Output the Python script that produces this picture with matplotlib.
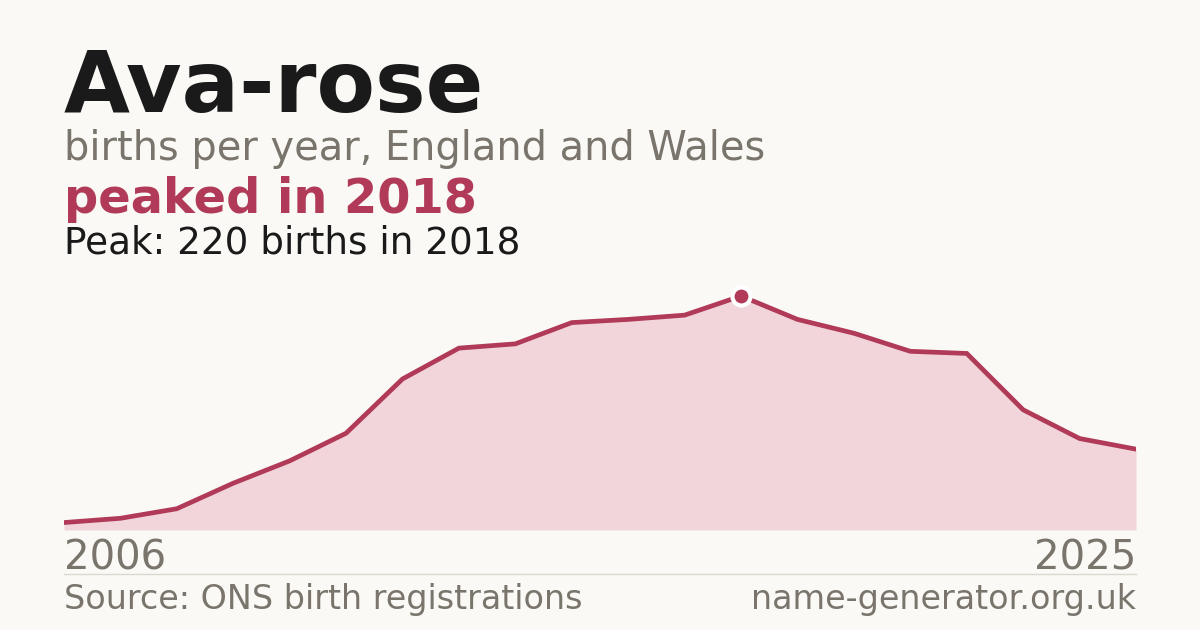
import matplotlib.pyplot as plt

years = list(range(2006, 2026))
births = [7, 11, 20, 44, 65, 91, 142, 171, 175, 195, 198, 202, 220, 198, 185, 168, 166, 113, 86, 76]

name = "Ava-rose"
subtitle = "births per year, England and Wales"
headline = "peaked in 2018"
peak_note = "Peak: 220 births in 2018"
source = "Source: ONS birth registrations"
site = "name-generator.org.uk"

bg = "#faf9f5"
accent = "#b03a58"
fill = "#f1d5da"
grey = "#7a756c"
dark = "#1a1a1a"

W, H = 1200, 630
fig = plt.figure(figsize=(12, 6.3), dpi=100, facecolor=bg)

def px(x, y):
    # pixel coords (from top-left) to figure fraction
    return x / W, 1 - y / H

# chart area: x 64..1136, baseline at y=530
ax = fig.add_axes([64 / W, 1 - 530 / H, 1072 / W, 250 / H])
ax.set_facecolor(bg)
ax.fill_between(years, births, 0, color=fill, lw=0)
ax.plot(years, births, color=accent, lw=3.4, solid_joinstyle="miter")
pk = births.index(max(births))
ax.plot(years[pk], births[pk], "o", ms=13, mfc=accent, mec="white", mew=3, clip_on=False, zorder=5)
ax.set_xlim(years[0], years[-1])
ax.set_ylim(0, max(births) * 250 / 234)
ax.axis("off")

fig.text(*px(64, 112), name, fontsize=61.4, fontweight="bold", color=dark, va="baseline")
fig.text(*px(64, 160), subtitle, fontsize=28.7, color=grey, va="baseline")
fig.text(*px(64, 213), headline, fontsize=34.5, fontweight="bold", color=accent, va="baseline")
fig.text(*px(64, 253), peak_note, fontsize=26.9, color=dark, va="baseline")

fig.text(*px(64, 570), str(years[0]), fontsize=29, color=grey, va="baseline")
fig.text(*px(1136, 570), str(years[-1]), fontsize=29, color=grey, va="baseline", ha="right")

fig.add_artist(plt.Line2D([64 / W, 1136 / W], [1 - 574 / H] * 2, color="#dcd8d0", lw=1))

fig.text(*px(64, 609), source, fontsize=24, color=grey, va="baseline")
fig.text(*px(1136, 609), site, fontsize=24, color=grey, va="baseline", ha="right")

fig.savefig("out.png", dpi=100, facecolor=bg)
